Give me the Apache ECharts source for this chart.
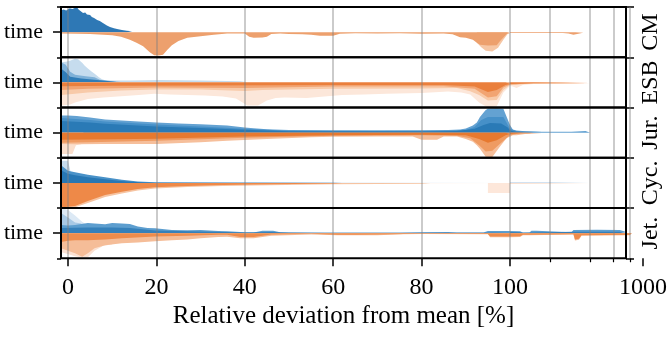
<!DOCTYPE html>
<html><head><meta charset="utf-8">
<script src="https://cdn.jsdelivr.net/npm/echarts@6/dist/echarts.min.js"></script>
<style>html,body{margin:0;padding:0;background:#fff}#c{width:671px;height:337px}</style>
</head><body><div id="c"></div>
<script>
// ---------------- data (x = relative deviation %, h = normalised density) ----------------
const rowNames = ['CM', 'ESB', 'Jur.', 'Cyc.', 'Jet.'];
const linTicks = [0, 20, 40, 60, 80, 100];
const logMinorTicks = [200, 400, 600, 800];
const logMajorTicks = [1000];
const axisTitle = 'Relative deviation from mean [%]';
const yTickLabel = 'time';

// CM
const cmBlue = [[-1.58,0.86],[-1.0,0.9],[-0.4,0.86],[0.4,0.95],[1.0,0.92],[1.4,0.98],[2.0,1.0],[2.4,0.9],[2.8,0.84],[3.4,0.76],[3.9,0.78],[4.3,0.7],[5.0,0.68],[5.4,0.6],[5.9,0.56],[6.6,0.48],[7.2,0.44],[7.9,0.36],[8.3,0.32],[8.8,0.26],[9.5,0.2],[10.4,0.15],[11.1,0.12],[12.2,0.08],[13.3,0.05],[14.5,0.03],[14.8,0]];
const cmOrange = [[-1.58,0.05],[2,0.06],[5,0.07],[8,0.1],[10,0.12],[12,0.18],[14,0.3],[15.5,0.42],[17,0.56],[18.5,0.8],[19.5,0.92],[20.5,0.93],[21.5,0.9],[22.5,0.7],[23.5,0.52],[25,0.35],[27,0.22],[30,0.16],[33,0.1],[36,0.05],[40,0.05],[41,0.18],[42,0.22],[44,0.21],[45,0.18],[46,0.07],[48,0.05],[50,0.07],[53,0.08],[55,0.1],[57,0.14],[60,0.14],[61.5,0.06],[65,0.04],[70,0.05],[75,0.04],[80,0.06],[85,0.05],[87,0.08],[88.7,0.2],[90,0.22],[91.6,0.3],[92.5,0.42],[93.2,0.5],[95,0.53],[97,0.52],[97.7,0.36],[99.3,0.06],[100,0.03],[150,0.03],[250,0.03],[275,0.05],[284,0.12],[300,0.1],[310,0.03],[355,0.02],[358,0]];
const cmOrangeLight = [[92.5,0.42],[93.5,0.6],[94.5,0.74],[96,0.77],[97.3,0.62],[98.5,0.3],[99.5,0.06],[100,0.03]];
// ESB
const esbBlueLight = [[-1.58,0.8],[-0.45,0.82],[0.45,0.86],[1.6,0.94],[2.3,0.92],[3.2,0.78],[3.8,0.66],[4.5,0.55],[5.4,0.42],[6.1,0.33],[7.0,0.2],[7.7,0.12],[8.4,0.08],[10.6,0.07],[14,0.07],[20.8,0.09],[30,0.07],[39,0.04],[41,0]];
const esbBlueMid = [[-1.58,0.8],[-0.5,0.7],[0.5,0.42],[1.6,0.3],[4,0.24],[6,0.2],[7.2,0.1],[9.5,0.05],[13,0]];
const esbBlueDark = [[-1.58,0.55],[-0.5,0.4],[0.5,0.22],[3,0.15],[6,0.1],[9.5,0.04],[12,0]];
const esbOrangeVL = [[-1.58,0.92],[0.5,0.88],[1.6,0.8],[4.5,0.66],[8,0.6],[12,0.55],[16,0.5],[19.5,0.45],[23,0.48],[27,0.5],[31,0.52],[35,0.56],[38,0.64],[39.5,0.8],[40.5,0.92],[43,0.92],[45,0.72],[47,0.62],[49,0.6],[54,0.62],[58,0.56],[62,0.5],[67,0.48],[72,0.45],[80,0.42],[86,0.36],[89,0.4],[91,0.48],[93,0.8],[95,1.0],[97,0.95],[98.5,0.4],[100,0.14],[105,0.16],[112,0.22],[125,0.1],[150,0.06],[250,0.05],[400,0.04],[405,0]];
const esbOrangeL = [[-1.58,0.5],[1,0.46],[4.5,0.4],[12,0.32],[20,0.28],[30,0.28],[40,0.34],[44,0.3],[60,0.25],[80,0.24],[88,0.22],[91,0.35],[93,0.5],[95,0.72],[97,0.7],[98.5,0.3],[100,0.1],[110,0.1],[134,0.05],[150,0.04],[400,0.03],[405,0]];
const esbOrangeM = [[-1.58,0.3],[4.5,0.25],[20,0.2],[40,0.22],[60,0.16],[85,0.15],[92,0.25],[95,0.6],[97,0.55],[98.5,0.2],[100,0.08],[150,0.03],[400,0.025],[405,0]];
const esbOrangeDark = [[-1.58,0.15],[10,0.13],[30,0.12],[60,0.1],[85,0.1],[92,0.16],[95,0.38],[97,0.3],[99,0.1],[100,0.06],[150,0.03],[400,0.02],[405,0]];
// Jur.
const jurBlueOuter = [[-1.58,0.68],[0,0.68],[2,0.66],[5,0.6],[8.4,0.52],[15,0.45],[20,0.4],[25,0.36],[30,0.33],[36,0.28],[40,0.2],[42,0.17],[45,0.13],[50,0.1],[60,0.09],[70,0.09],[80,0.09],[86,0.1],[88.7,0.12],[90,0.16],[91.6,0.28],[92.5,0.4],[93.2,0.62],[94.4,0.88],[95,0.96],[97,0.97],[98.5,0.95],[99.3,0.6],[100,0.3],[105,0.12],[112,0.08],[130,0.05],[174,0.03],[290,0.03],[300,0.06],[370,0.06],[380,0.02],[400,0]];
const jurBlueMid = [[-1.58,0.58],[5,0.5],[8.4,0.44],[20,0.32],[30,0.24],[40,0.15],[50,0.07],[70,0.06],[86,0.07],[90,0.1],[92,0.22],[93.5,0.5],[95,0.62],[98.5,0.62],[99.5,0.3],[100,0.15],[112,0.05],[174,0.02],[180,0]];
const jurBlueDark = [[-1.58,0.46],[5,0.4],[8.4,0.35],[20,0.24],[30,0.18],[40,0.11],[50,0.05],[80,0.04],[88,0.06],[92,0.15],[94,0.3],[95.5,0.38],[98,0.36],[99.5,0.2],[100,0.08],[112,0.03],[150,0]];
const jurOrangeVL = [[-1.58,0.85],[1.0,0.85],[1.8,0.5],[3,0.46],[3.5,0]];
const jurOrangeL = [[-1.58,0.45],[2,0.46],[8,0.45],[20,0.45],[30,0.38],[36,0.32],[45,0.25],[55,0.18],[60,0.16],[70,0.15],[78,0.15],[80,0.28],[83.5,0.28],[85,0.15],[88,0.15],[90,0.25],[91.6,0.36],[92.5,0.5],[93.2,0.64],[94.5,0.96],[96,0.97],[97.7,0.56],[99.3,0.2],[100,0.16],[105,0.1],[112,0.1],[130,0.05],[174,0.04],[177,0]];
const jurOrangeM = [[-1.58,0.4],[5,0.38],[20,0.32],[30,0.26],[40,0.2],[60,0.12],[80,0.1],[88,0.12],[91,0.22],[93,0.5],[94.5,0.75],[96,0.72],[98,0.4],[100,0.1],[112,0.05],[140,0.02],[150,0]];
const jurOrangeDark = [[-1.58,0.28],[10,0.26],[20,0.24],[40,0.15],[60,0.1],[80,0.08],[90,0.1],[93,0.25],[95,0.4],[97,0.3],[99,0.1],[100,0.05],[120,0.01],[125,0]];
// Cyc.
const cycBlueLight = [[-1.58,0.88],[0,0.88],[0.5,0.5],[1,0]];
const cycBlueTail = [[-1.58,0.02],[100,0.02],[200,0.02],[400,0.02],[405,0]];
const cycBlueMid = [[-1.58,0.7],[0,0.48],[1.6,0.42],[4.5,0.32],[8.4,0.22],[12.2,0.12],[15.8,0.05],[19.7,0.025],[36,0.012],[60,0.005],[62,0]];
const cycBlueDark = [[-1.58,0.5],[0,0.36],[1.6,0.3],[4.5,0.22],[8.4,0.14],[12,0.07],[16,0.02],[20,0]];
const cycOrangeBox = [[95,0.4],[100,0.4]];
const cycOrangeTail = [[-1.58,0.03],[100,0.03],[200,0.02],[400,0.02],[405,0]];
const cycOrangeL = [[-1.58,1],[1.6,0.97],[4.5,0.8],[8.4,0.56],[12.2,0.42],[15.8,0.3],[19.7,0.22],[27,0.16],[35,0.12],[42,0.1],[60,0.05],[80,0.03],[82,0]];
const cycOrangeDark = [[-1.58,0.98],[1.6,0.92],[4.5,0.72],[8.4,0.48],[12.2,0.35],[15.8,0.24],[19.7,0.17],[27,0.12],[35,0.08],[42,0.06],[60,0.02],[62,0]];
// Jet.
const jetBlueVL = [[-1.58,1.0],[0,0.92],[1.6,0.7],[3.2,0.45],[4.5,0.3],[6,0.2],[7,0]];
const jetBlueL = [[-1.58,0.8],[0,0.62],[1.6,0.42],[3,0.38],[4,0]];
const jetBlueMid = [[-1.58,0.32],[0,0.3],[1.6,0.32],[3,0.36],[4.5,0.4],[6,0.38],[8.4,0.35],[10,0.4],[12.2,0.38],[14,0.36],[15.8,0.26],[18,0.2],[19.7,0.19],[23.5,0.12],[27,0.11],[30,0.12],[34,0.08],[36,0.07],[40,0.03],[42,0.02],[44,0.09],[46.4,0.09],[48,0.03],[53,0.02],[58,0.01],[75,0.01],[80,0.03],[86,0.04],[88,0.02],[94,0.02],[95,0.08],[100,0.08],[119,0.07],[125,0.02],[140,0.02],[145,0.09],[158,0.09],[162,0.02],[290,0.03],[300,0.12],[450,0.13],[670,0.12],[760,0.03],[770,0]];
const jetBlueDark = [[-1.58,0.2],[4.5,0.22],[10,0.22],[14,0.2],[19.7,0.1],[30,0.06],[40,0.02],[46,0.04],[50,0.01],[95,0.01],[100,0.04],[119,0.03],[125,0.01],[300,0.05],[670,0.05],[700,0]];
const jetOrangeVL = [[-1.58,0.75],[1.6,0.92],[3,0.97],[4.5,0.96],[6,0.7],[8,0.5],[10,0.45],[10.5,0]];
const jetOrangeL = [[-1.58,0.6],[0,0.7],[1.6,0.8],[3.2,0.94],[4.5,0.8],[6,0.6],[8.4,0.48],[12.2,0.4],[15.8,0.37],[19.7,0.32],[23.5,0.28],[27,0.25],[30,0.2],[34,0.15],[36,0.14],[39,0.2],[42,0.2],[46,0.1],[55,0.05],[61,0.08],[70,0.08],[76,0.04],[80,0.03],[95,0.04],[95.5,0.16],[100,0.16],[119,0.15],[125,0.08],[141,0.08],[145,0.04],[300,0.05],[308,0.29],[330,0.26],[345,0.1],[354,0.1],[795,0.08],[825,0]];
const jetOrangeDark = [[-1.58,0.35],[0,0.3],[1.6,0.28],[4.5,0.28],[8.4,0.25],[12.2,0.2],[19.7,0.13],[27,0.1],[34,0.06],[36,0.06],[39,0.15],[42,0.15],[46,0.05],[52,0.03],[55,0.02],[61,0.06],[65,0.06],[70,0.05],[76,0.03],[80,0.02],[95,0.03],[95.5,0.13],[100,0.13],[119,0.12],[125,0.06],[141,0.06],[145,0.03],[300,0.04],[308,0.25],[330,0.22],[345,0.08],[354,0.08],[795,0.06],[825,0]];

// ---------------- layer styling (drawing order per row) ----------------
const rows = [
  [ {d:cmBlue,s:1,c:'#2e78b5'}, {d:cmOrangeLight,s:-1,c:'#f6c6a4'}, {d:cmOrange,s:-1,c:'#eda06d'} ],
  [ {d:esbBlueLight,s:1,c:'#c6dcee'}, {d:esbBlueMid,s:1,c:'#7fb1d8'}, {d:esbBlueDark,s:1,c:'#2f7cb7'},
    {d:esbOrangeVL,s:-1,c:'#fce7da'}, {d:esbOrangeL,s:-1,c:'#f8caa9'}, {d:esbOrangeM,s:-1,c:'#f2a472'}, {d:esbOrangeDark,s:-1,c:'#ea7f3c'} ],
  [ {d:jurBlueOuter,s:1,c:'#64a2d2'}, {d:jurBlueMid,s:1,c:'#4690c8'}, {d:jurBlueDark,s:1,c:'#2a7ab6'},
    {d:jurOrangeVL,s:-1,c:'#fbdfcd'}, {d:jurOrangeL,s:-1,c:'#f6bf9b'}, {d:jurOrangeM,s:-1,c:'#ef9b62'}, {d:jurOrangeDark,s:-1,c:'#e7792f'} ],
  [ {d:cycBlueLight,s:1,c:'#c5dbee'}, {d:cycBlueTail,s:1,c:'#c3d9ec'}, {d:cycBlueMid,s:1,c:'#4a92c8'}, {d:cycBlueDark,s:1,c:'#2777b4'},
    {d:cycOrangeBox,s:-1,c:'#fde7da'}, {d:cycOrangeTail,s:-1,c:'#f9d6bf'}, {d:cycOrangeL,s:-1,c:'#f6c4a2'}, {d:cycOrangeDark,s:-1,c:'#ee8948'} ],
  [ {d:jetBlueVL,s:1,c:'#dce9f5'}, {d:jetBlueL,s:1,c:'#a8c9e5'}, {d:jetBlueMid,s:1,c:'#5d9ecf'}, {d:jetBlueDark,s:1,c:'#3580ba'},
    {d:jetOrangeVL,s:-1,c:'#fbe1d2'}, {d:jetOrangeL,s:-1,c:'#f5bd98'}, {d:jetOrangeDark,s:-1,c:'#ee8c4c'} ]
];

// ---------------- layout ----------------
const FONT = "'Liberation Serif','DejaVu Serif',serif";
const LEFT = 61, MID = 510, RIGHT = 643, TOP0 = 7, RH = 50.25;
const LINMIN = -1.58;
const grids = [], xAxes = [], yAxes = [], series = [];
const nR = rowNames.length;
const gridLineStyle = {color:'rgba(128,128,128,0.48)', width:1.7, type:'solid'};
const noLine = {show:false, onZero:false};
const tickFmt = v => String(v);

for (let i = 0; i < nR; i++) {
  const top = TOP0 + i * RH, last = i === nR - 1;
  grids.push({left: LEFT, top: top, width: MID - LEFT, height: RH});
  grids.push({left: MID, top: top, width: RIGHT - MID, height: RH});
  xAxes.push({type:'value', gridIndex:2*i, position:'bottom', min:LINMIN, max:100, splitLine:{show:false},
    axisLine:noLine,
    axisTick:{show:last, customValues:linTicks, length:8, lineStyle:{color:'#000', width:1.5}},
    axisLabel:{show:last, customValues:linTicks, formatter:tickFmt, fontSize:24, fontFamily:FONT, color:'#000', margin:17}});
  xAxes.push({type:'log', logBase:10, gridIndex:2*i+1, position:'bottom', min:100, max:1000, splitLine:{show:false},
    axisLine:noLine,
    axisTick:{show:last, customValues:logMajorTicks, length:8, lineStyle:{color:'#000', width:1.5}},
    axisLabel:{show:last, customValues:logMajorTicks, formatter:tickFmt, showMaxLabel:true, fontSize:24, fontFamily:FONT, color:'#000', margin:17}});
  yAxes.push({type:'value', gridIndex:2*i, min:-1, max:1, splitLine:{show:false}, axisLine:noLine,
    axisTick:{show:true, customValues:[0], length:8, lineStyle:{color:'#000', width:1.5}},
    axisLabel:{show:true, customValues:[0], formatter:() => yTickLabel, fontSize:22, fontFamily:FONT, color:'#000', margin:18}});
  yAxes.push({type:'value', gridIndex:2*i+1, min:-1, max:1, show:false, axisLine:noLine});
}
// frame grids
for (let i = 0; i < nR; i++) {
  const top = TOP0 + i * RH, last = i === nR - 1;
  const g = grids.length;
  grids.push({left: LEFT, top: top, width: RIGHT - LEFT, height: RH, show:true, borderColor:'#000', borderWidth:2, backgroundColor:'transparent', z:10});
  xAxes.push({type:'value', gridIndex:g, position:'bottom', min:0, max:1, show:last, axisLine:noLine, axisTick:{show:false}, axisLabel:{show:false}, splitLine:{show:false},
    name: last ? axisTitle : '', nameLocation:'middle', nameGap:46, nameTextStyle:{fontSize:25, fontFamily:FONT, color:'#000'}});
  yAxes.push({type:'value', gridIndex:g, min:0, max:1, position:'left', axisLine:noLine, splitLine:{show:false}, axisLabel:{show:false},
    axisTick:{show:true, customValues:[0,1], length:4, lineStyle:{color:'#000', width:1.5}}});
  yAxes.push({type:'value', gridIndex:g, min:0, max:1, position:'right', axisLine:noLine, splitLine:{show:false}, axisLabel:{show:false},
    axisTick:{show:true, customValues:[0,1], length:8, lineStyle:{color:'#000', width:1.5}},
    name: rowNames[i], nameLocation:'middle', nameRotate:90, nameGap:13, nameTextStyle:{fontSize:24, fontFamily:FONT, color:'#000'}});
}
// minor tick grid for the log part of the bottom axis
{
  const g = grids.length;
  grids.push({left: MID, top: TOP0 + (nR-1)*RH, width: RIGHT - MID, height: RH});
  xAxes.push({type:'log', logBase:10, gridIndex:g, position:'bottom', min:100, max:1000, splitLine:{show:false}, axisLine:noLine,
    axisTick:{show:true, customValues:logMinorTicks, length:4, lineStyle:{color:'#000', width:1.2}}, axisLabel:{show:false}});
  yAxes.push({type:'value', gridIndex:g, min:-1, max:1, show:false, axisLine:noLine});
}

// ---------------- series ----------------
function area(data, g, color) {
  return {type:'line', xAxisIndex:g, yAxisIndex:g, data:data, symbol:'none', showSymbol:false, silent:true,
    lineStyle:{width:0}, areaStyle:{color:color, opacity:1}, z:2, animation:false};
}
rows.forEach((layers, i) => {
  layers.forEach(L => {
    const lin = L.d.filter(p => p[0] <= 100).map(p => [p[0], L.s * p[1]]);
    const lg = L.d.filter(p => p[0] >= 100).map(p => [p[0], L.s * p[1]]);
    if (lin.length > 1) series.push(area(lin, 2*i, L.c));
    if (lg.length > 1) series.push(area(lg, 2*i+1, L.c));
  });
});
function gridSeries(g, vals) {
  return {type:'line', xAxisIndex:g, yAxisIndex:g, data:[[vals[0], 0]], symbol:'none', showSymbol:false, silent:true,
    lineStyle:{opacity:0}, z:5, animation:false,
    markLine:{silent:true, symbol:['none','none'], label:{show:false}, animation:false, lineStyle:gridLineStyle,
      emphasis:{disabled:true}, data: vals.map(v => ({xAxis: v}))}};
}
for (let i = 0; i < nR; i++) {
  series.push(gridSeries(2*i, linTicks));
  series.push(gridSeries(2*i+1, logMinorTicks));
}

const chart = echarts.init(document.getElementById('c'), null, {renderer:'canvas'});
chart.setOption({animation:false, backgroundColor:'#fff', textStyle:{fontFamily:FONT},
  grid:grids, xAxis:xAxes, yAxis:yAxes, series:series});
</script></body></html>
